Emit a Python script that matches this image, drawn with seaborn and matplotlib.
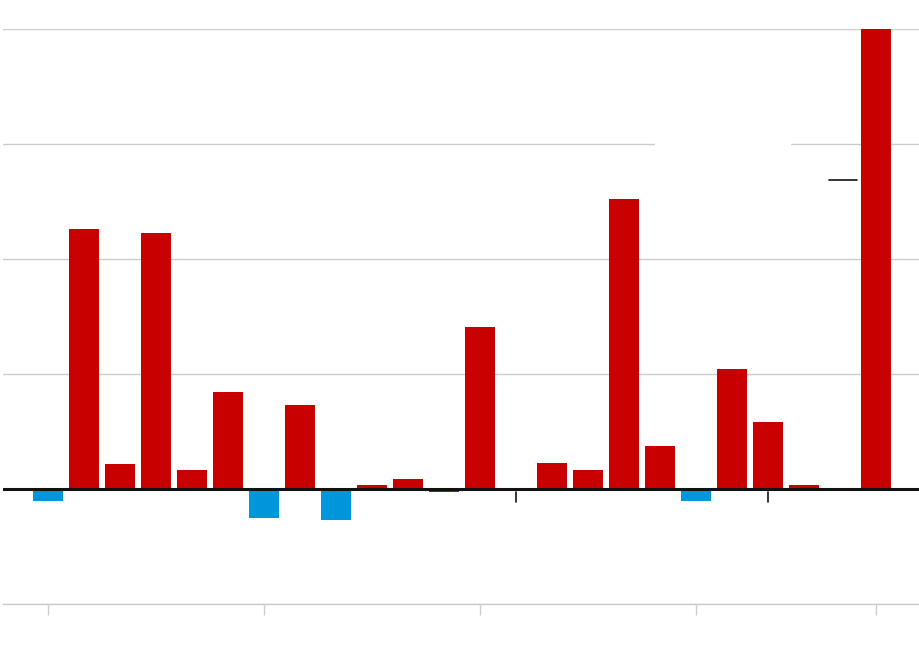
import numpy as np
import pandas as pd
import seaborn as sns
import matplotlib.pyplot as plt
from matplotlib.patches import Rectangle

# values (one grid step = 1 unit)
periods = [str(i) for i in range(24)]
values = [-0.10, 2.26, 0.22, 2.23, 0.165, 0.84, -0.25, 0.73, -0.27, 0.035, 0.09, -0.03,
          1.41, np.nan, 0.23, 0.165, 2.52, 0.37, -0.10, 1.04, 0.58, 0.035, np.nan, 4.0]
groups = ['down', 'up', 'up', 'up', 'up', 'up', 'down', 'up', 'down', 'up', 'up', 'up',
          'up', 'up', 'up', 'up', 'up', 'up', 'down', 'up', 'up', 'up', 'up', 'up']
tick_idx = [0, 6, 12, 18, 23]
marker_idx = [13, 20]

df = pd.DataFrame({'period': periods, 'value': values, 'group': groups})

sns.set_style('white')
fig = plt.figure(figsize=(9.2, 6.52), dpi=100)
ax = fig.add_axes([3 / 920, 48 / 652, 917 / 920, 575 / 652])

sns.barplot(data=df, x='period', y='value', hue='group', order=periods,
            palette={'up': '#c80000', 'down': '#0096db'}, saturation=1, dodge=False,
            width=0.81, linewidth=0, legend=False, ax=ax, zorder=3)

ax.set_xlim(-1.25, 24.22)
ax.set_ylim(-1, 4)
ax.set_yticks([-1, 0, 1, 2, 3, 4])
ax.yaxis.grid(True, color='#cccccc', lw=1, zorder=0)
ax.set_axisbelow(True)
ax.axhline(0, color='#111111', lw=2.2, zorder=4)

# white label box cutting the grid (text removed)
ax.add_patch(Rectangle((16.86, 2.95), 3.75, 0.1, color='white', zorder=2))
# annotation leader line and markers
ax.plot([21.69, 22.47], [2.687, 2.687], color='#111111', lw=1.2, zorder=4)
for m in marker_idx:
    ax.plot([m, m], [-0.03, -0.115], color='#111111', lw=1.2, zorder=4)

ax.set_xticks(tick_idx)
ax.set_xticklabels([])
ax.set_yticklabels([])
ax.tick_params(axis='x', length=8, color='#cccccc', width=1, bottom=True)
ax.tick_params(axis='y', length=0)
ax.set_xlabel('')
ax.set_ylabel('')
for s in ['top', 'left', 'right']:
    ax.spines[s].set_visible(False)
ax.spines['bottom'].set_color('#cccccc')
ax.spines['bottom'].set_linewidth(1)

fig.savefig('out.png', dpi=100)
